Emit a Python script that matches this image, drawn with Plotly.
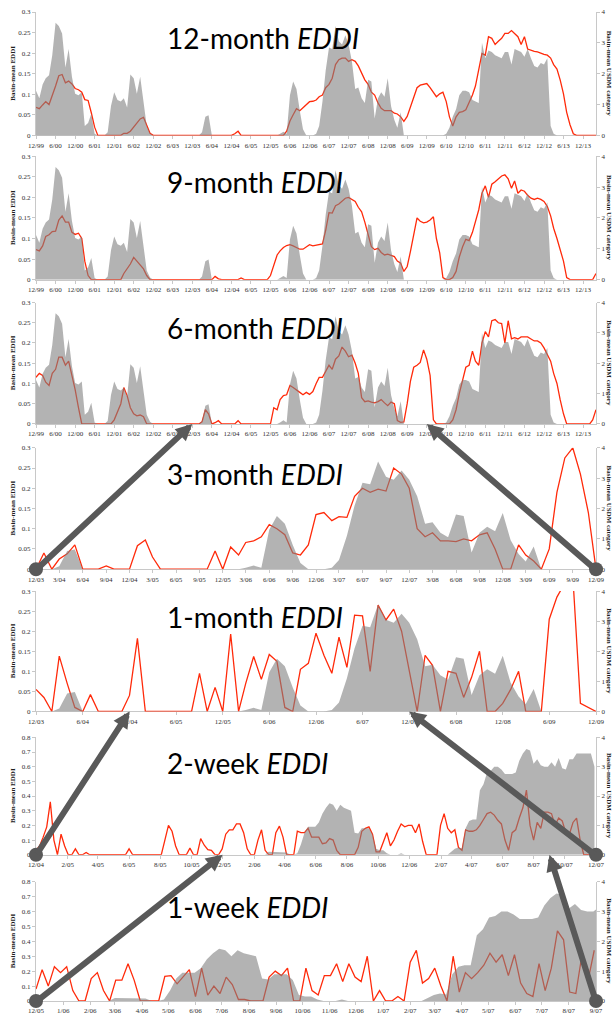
import pandas as pd
import plotly.graph_objects as go

# ---------------- data ----------------
# Basin-mean USDM category, monthly, Dec 1999 - Apr 2014
usdm_monthly = [
    1.45,                                                               # Dec 1999
    1.2, 1.65, 1.85, 1.95, 2.6, 3.65, 3.55, 3.3, 2.2, 2.8, 1.9, 1.35,   # 2000
    1.3, 1.4, 0.3, 0.4, 0.7, 0.05, 0, 0, 0, 0.1, 0.95, 1.4,             # 2001
    1.15, 1.1, 1.2, 0.9, 1.97, 1.85, 1.35, 1.9, 1.1, 0.3, 0.07, 0,      # 2002
    0, 0, 0, 0, 0, 0, 0, 0, 0, 0, 0, 0,                                 # 2003
    0, 0, 0.1, 0.6, 0.65, 0, 0, 0, 0, 0, 0, 0,                          # 2004
    0, 0, 0, 0, 0, 0, 0, 0, 0, 0, 0, 0,                                 # 2005
    0, 0, 0.05, 0.12, 0.05, 1.3, 1.75, 1.5, 0.8, 0.2, 0, 0,             # 2006
    0, 0.05, 0.3, 1.1, 2.1, 2.85, 2.8, 3.55, 3.05, 2.95, 3.25, 2.95,    # 2007
    2.4, 1.5, 1.55, 1.2, 1.05, 1.8, 1.75, 0.55, 1.2, 1.4, 1.25, 1.85,   # 2008
    0.95, 0.5, 0.25, 0.75, 0, 0, 0, 0, 0, 0, 0, 0,                      # 2009
    0, 0, 0, 0, 0, 0.05, 0.25, 0.6, 0.85, 1.3, 1.45, 1.45,              # 2010
    1.4, 1.15, 1.1, 1.05, 3.0, 2.5, 2.75, 2.7, 2.6, 2.55, 2.5, 2.7,     # 2011
    2.7, 2.3, 2.8, 2.75, 2.7, 2.55, 2.8, 2.5, 2.25, 2.2, 2.35, 2.3,     # 2012
    2.5, 0.3, 0.05, 0, 0, 0, 0, 0, 0, 0, 0, 0,                          # 2013
    0, 0, 0, 0,                                                         # 2014
]

# Basin-mean EDDI, monthly, Dec 1999 - Apr 2014
eddi_12mo = [
    0.068,
    0.065, 0.074, 0.082, 0.075, 0.095, 0.12, 0.145, 0.148, 0.128, 0.132, 0.125, 0.114,
    0.111, 0.105, 0.087, 0.085, 0.055, 0.02, 0, 0, 0, 0, 0, 0,
    0, 0, 0.005, 0.005, 0.01, 0.02, 0.03, 0.04, 0.044, 0.025, 0.005, 0,
    0, 0, 0, 0, 0, 0, 0, 0, 0, 0, 0, 0,
    0, 0, 0, 0, 0, 0, 0, 0, 0, 0, 0, 0,
    0.004, 0.01, 0, 0, 0, 0, 0, 0, 0, 0, 0, 0,
    0, 0, 0, 0, 0.01, 0.035, 0.05, 0.065, 0.06, 0.068, 0.074, 0.082,
    0.083, 0.086, 0.094, 0.098, 0.116, 0.124, 0.139, 0.172, 0.184, 0.188, 0.188, 0.18,
    0.184, 0.18, 0.169, 0.15, 0.135, 0.124, 0.105, 0.098, 0.079, 0.066, 0.06, 0.06,
    0.06, 0.054, 0.052, 0.045, 0.034, 0.046, 0.068, 0.09, 0.116, 0.122, 0.124, 0.126,
    0.116, 0.105, 0.094, 0.101, 0.105, 0.082, 0.045, 0.023, 0.045, 0.056, 0.058, 0.062,
    0.079, 0.098, 0.12, 0.161, 0.199, 0.195, 0.24, 0.236, 0.221, 0.229, 0.236, 0.248,
    0.248, 0.255, 0.248, 0.24, 0.221, 0.24, 0.21, 0.206, 0.204, 0.203, 0.199, 0.197,
    0.195, 0.188, 0.172, 0.161, 0.135, 0.101, 0.056, 0.026, 0.004, 0, 0, 0,
    0, 0, 0, 0,
]

eddi_9mo = [
    0.073,
    0.07, 0.082, 0.105, 0.109, 0.117, 0.118, 0.145, 0.155, 0.14, 0.14, 0.115, 0.11,
    0.113, 0.1, 0.045, 0.01, 0, 0, 0, 0, 0, 0, 0, 0,
    0, 0, 0.015, 0.027, 0.038, 0.054, 0.044, 0.036, 0.026, 0.01, 0, 0,
    0, 0, 0, 0, 0, 0, 0, 0, 0, 0, 0, 0,
    0, 0, 0, 0, 0, 0, 0.008, 0.002, 0, 0, 0, 0,
    0, 0, 0.004, 0, 0, 0, 0, 0, 0, 0, 0, 0.01,
    0.035, 0.06, 0.07, 0.078, 0.083, 0.085, 0.082, 0.077, 0.074, 0.074, 0.08, 0.085,
    0.082, 0.084, 0.085, 0.087, 0.12, 0.163, 0.162, 0.18, 0.184, 0.19, 0.198, 0.2,
    0.195, 0.19, 0.176, 0.165, 0.14, 0.11, 0.08, 0.073, 0.076, 0.066, 0.06, 0.062,
    0.059, 0.056, 0.045, 0.04, 0.02, 0.032, 0.068, 0.108, 0.15, 0.142, 0.138, 0.14,
    0.145, 0.153, 0.1, 0.065, 0.005, 0, 0, 0.005, 0.02, 0.055, 0.08, 0.098,
    0.095, 0.115, 0.14, 0.17, 0.21, 0.228, 0.2, 0.232, 0.238, 0.246, 0.252, 0.255,
    0.245, 0.222, 0.24, 0.21, 0.218, 0.215, 0.205, 0.198, 0.195, 0.198, 0.195, 0.19,
    0.178, 0.155, 0.125, 0.1, 0.075, 0.045, 0.005, 0, 0, 0, 0, 0,
    0, 0, 0, 0.015,
]

eddi_6mo = [
    0.115,
    0.125, 0.12, 0.103, 0.095, 0.125, 0.135, 0.165, 0.165, 0.145, 0.155, 0.12, 0.085,
    0.04, 0, 0, 0, 0, 0, 0, 0, 0, 0, 0, 0.01,
    0.03, 0.05, 0.09, 0.07, 0.04, 0.025, 0.02, 0.022, 0.018, 0, 0, 0,
    0, 0, 0, 0, 0, 0, 0, 0, 0, 0, 0, 0,
    0, 0, 0.005, 0.035, 0.025, 0, 0.003, 0.008, 0, 0, 0, 0,
    0, 0.008, 0, 0, 0, 0, 0, 0, 0, 0, 0, 0,
    0.04, 0.035, 0.06, 0.07, 0.072, 0.095, 0.09, 0.085, 0.078, 0.072, 0.078, 0.073,
    0.08, 0.1, 0.115, 0.115, 0.13, 0.145, 0.135, 0.16, 0.168, 0.19, 0.18, 0.166,
    0.17, 0.15, 0.125, 0.065, 0.055, 0.057, 0.054, 0.052, 0.055, 0.06, 0.052, 0.045,
    0.054, 0.05, 0.008, 0.004, 0.005, 0.05, 0.105, 0.14, 0.145, 0.152, 0.183, 0.16,
    0.12, 0.01, 0, 0, 0, 0, 0, 0.01, 0.035, 0.075, 0.11, 0.14,
    0.145, 0.18, 0.155, 0.145, 0.2, 0.228, 0.215, 0.255, 0.258, 0.25, 0.248, 0.2,
    0.255, 0.21, 0.213, 0.21, 0.215, 0.215, 0.215, 0.21, 0.205, 0.205, 0.2, 0.188,
    0.17, 0.155, 0.125, 0.1, 0.06, 0.025, 0, 0, 0, 0, 0, 0,
    0, 0, 0.01, 0.035,
]

# Basin-mean EDDI, monthly, Dec 2003 - Dec 2009
eddi_3mo = [
    0,
    0.04, 0, 0.025, 0.038, 0.06, 0, 0, 0, 0.008, 0, 0, 0,
    0.058, 0.072, 0.03, 0, 0, 0, 0, 0, 0, 0, 0.045, 0,
    0.055, 0.035, 0.066, 0.07, 0.08, 0.11, 0.1, 0.085, 0.04, 0.035, 0.06, 0.135,
    0.14, 0.12, 0.13, 0.128, 0.18, 0.2, 0.19, 0.198, 0.193, 0.25, 0.235, 0.2,
    0.1, 0.08, 0.09, 0.07, 0.07, 0.068, 0.075, 0.07, 0.085, 0.09, 0.05, 0,
    0, 0.06, 0.035, 0.02, 0, 0.05, 0.19, 0.275, 0.3, 0.235, 0.14, 0,
]

eddi_1mo = [
    0.055,
    0.035, 0, 0.138, 0.07, 0.01, 0, 0.042, 0, 0, 0, 0, 0.04,
    0.182, 0, 0, 0, 0, 0, 0, 0, 0.095, 0, 0.06, 0,
    0.193, 0, 0.07, 0.137, 0.08, 0.142, 0.125, 0.01, 0, 0.105, 0.12, 0.195,
    0.14, 0.095, 0.185, 0.11, 0.24, 0.238, 0.1, 0.265, 0.228, 0.255, 0.2, 0.1,
    0, 0.14, 0.115, 0, 0.1, 0.095, 0.035, 0.085, 0.15, 0, 0, 0.02,
    0.055, 0.1, 0, 0, 0, 0.23, 0.285, 0.32, 0.34, 0.02, 0.01, 0,
]

# Basin-mean USDM category, weekly from 1 Dec 2004
usdm_weekly = (
    [0] * 65
    + [0.1, 0.1, 0.1, 0.1, 0.1, 0.08, 0, 0, 0.05, 0.35, 0.75, 0.95, 0.95, 0.95,
       1.1, 1.4, 1.6, 1.75, 1.7, 1.5, 1.7, 1.6, 1.55, 1.5, 0.75, 0.72, 0.9, 0.9,
       0.9, 0.7, 0.2, 0.15, 0.15, 0.05, 0, 0, 0, 0.05]
    + [0] * 13
    + [0.1, 0.2, 0.25, 0.22, 0.9, 1.15, 1.2, 1.2, 2.2, 2.4, 2.8, 2.85, 3.0, 3.0,
       2.9, 2.75, 2.75, 2.75, 2.8, 3.2, 3.45, 3.6, 3.55, 3.1, 3.25, 3.05, 3.0,
       3.0, 3.15, 3.0, 3.3, 2.95, 2.9, 3.25, 3.25, 3.45, 3.45, 3.45, 3.45, 3.45,
       3.0]
)

# 2-week EDDI, weekly from 1 Dec 2004
eddi_2wk = (
    [0.03, 0.06, 0.12, 0.19, 0.36, 0.1, 0, 0.14, 0.06, 0, 0, 0.04, 0, 0, 0.015]
    + [0] * 11
    + [0.04]
    + [0] * 9
    + [0.1, 0.2, 0.16, 0.06, 0, 0, 0, 0.045, 0, 0, 0.11, 0.065, 0.035, 0.03, 0,
       0, 0.04, 0.14, 0.17, 0.17, 0.21, 0.21, 0.15, 0.04, 0, 0, 0.1, 0.17, 0.03,
       0, 0, 0.15, 0.195, 0.12, 0, 0, 0, 0.16, 0.15, 0.15, 0.18, 0.12, 0.12,
       0.12, 0.075, 0.08, 0.11, 0.1, 0.03]
    + [0] * 5
    + [0.05, 0.16, 0.18, 0.19, 0.14, 0.02, 0.02, 0.09, 0.15, 0.06, 0.1, 0.16,
       0.21, 0.19, 0.2, 0.2, 0.15, 0.21, 0.09]
    + [0] * 4
    + [0.2, 0.28, 0.18, 0.15, 0.17, 0.05, 0.03, 0.17, 0.16, 0.16, 0.17, 0.2,
       0.24, 0.28, 0.29, 0.27, 0.235, 0.21, 0.1, 0.03, 0.15, 0.17, 0.25, 0.32,
       0.44, 0.2, 0.1, 0.22, 0.18, 0.29, 0.29, 0.28, 0.2, 0.25, 0.23, 0.15,
       0.14, 0.22, 0.25, 0.1, 0, 0, 0, 0]
)

# 1-week EDDI, weekly from 1 Dec 2005
eddi_1wk = [
    0.08, 0.21, 0.1, 0.23, 0.19, 0.23, 0.07, 0,
    0, 0.15, 0.19, 0.07, 0,
    0.14, 0.14, 0.25, 0.14, 0,
    0, 0, 0,
    0.165, 0.17, 0.115, 0.16, 0.21, 0.03, 0.22, 0.04, 0.1, 0.05, 0.16, 0.11, 0.01, 0.01, 0,
    0, 0,
    0.16, 0.2, 0.17, 0.22, 0, 0, 0.22, 0.07, 0.04, 0.17, 0.17, 0.25, 0.13, 0.25,
    0.16, 0.13, 0.3, 0, 0.07, 0, 0, 0.03, 0,
    0.26, 0.34, 0.12, 0.15, 0.22, 0.1, 0, 0.3, 0.06, 0.19, 0.15, 0.19, 0.24, 0.32,
    0.26, 0.31, 0.17, 0.31, 0.12, 0.05, 0.03, 0.25, 0.07, 0.22, 0.47, 0.41, 0.06,
    0.05, 0.31, 0.14, 0.34,
]

panel_labels = ["12-month", "9-month", "6-month", "3-month", "1-month", "2-week", "1-week"]

# ---------------- series on their time axes ----------------
monthly_dates = pd.date_range("1999-12-01", periods=len(usdm_monthly), freq="MS")
usdm_m = pd.Series(usdm_monthly, index=monthly_dates)
usdm_0309 = usdm_m["2003-12-01":"2009-12-01"]
mid_dates = pd.date_range("2003-12-01", periods=len(eddi_3mo), freq="MS")

weekly_dates = pd.date_range("2004-12-01", periods=len(usdm_weekly), freq="7D")
usdm_w = pd.Series(usdm_weekly, index=weekly_dates)
usdm_0507 = usdm_w["2005-11-20":"2007-09-10"]
wk2_dates = pd.date_range("2004-12-01", periods=len(eddi_2wk), freq="7D")
wk1_dates = pd.date_range("2005-12-01", periods=len(eddi_1wk), freq="7D")

full_range = ("1999-12-01", "2014-04-01")
mid_range = ("2003-12-01", "2009-12-01")

panels = [
    dict(ex=monthly_dates, ey=eddi_12mo, ux=monthly_dates, uy=usdm_monthly,
         xr=full_range, dtick="M6", ymax=0.3, ydt=0.05),
    dict(ex=monthly_dates, ey=eddi_9mo, ux=monthly_dates, uy=usdm_monthly,
         xr=full_range, dtick="M6", ymax=0.3, ydt=0.05),
    dict(ex=monthly_dates, ey=eddi_6mo, ux=monthly_dates, uy=usdm_monthly,
         xr=full_range, dtick="M6", ymax=0.3, ydt=0.05),
    dict(ex=mid_dates, ey=eddi_3mo, ux=usdm_0309.index, uy=usdm_0309.values,
         xr=mid_range, dtick="M3", ymax=0.3, ydt=0.05),
    dict(ex=mid_dates, ey=eddi_1mo, ux=usdm_0309.index, uy=usdm_0309.values,
         xr=mid_range, dtick="M6", ymax=0.3, ydt=0.05),
    dict(ex=wk2_dates, ey=eddi_2wk, ux=weekly_dates, uy=usdm_weekly,
         xr=("2004-12-01", "2007-12-01"), dtick="M2", ymax=0.8, ydt=0.1),
    dict(ex=wk1_dates, ey=eddi_1wk, ux=usdm_0507.index, uy=usdm_0507.values,
         xr=("2005-12-01", "2007-09-01"), dtick="M1", ymax=0.8, ydt=0.1),
]

# ---------------- geometry ----------------
W, H = 616, 1023
ML, MR, MT, MB = 36, 20, 8, 21
PW, PH = W - ML - MR, H - MT - MB
# (top, bottom) pixel rows of each plot area
panel_px = [(8, 132), (153, 277), (300, 422), (446, 568), (590, 711), (737, 855), (882, 1002)]


def ypaper(py):
    return (H - MB - py) / PH


def xfrac(i, date):
    r0, r1 = (pd.Timestamp(v) for v in panels[i]["xr"])
    return (pd.Timestamp(date) - r0) / (r1 - r0)


RED = "#ff2a0a"
GRAY = "rgba(128,128,128,0.6)"
DARK = "#595959"
AXC = "#c8c8c8"
TICKFONT = dict(family="Liberation Serif", size=7, color="#303030")

fig = go.Figure()
layout = {}
annotations = []
shapes = []

for i, p in enumerate(panels):
    n = i + 1
    xa = "x" if n == 1 else f"x{n}"
    yl_n, yr_n = 2 * n - 1, 2 * n
    yl = "y" if yl_n == 1 else f"y{yl_n}"
    yr = f"y{yr_n}"

    fig.add_trace(go.Scatter(
        x=p["ex"], y=p["ey"], xaxis=xa, yaxis=yl, mode="lines",
        line=dict(color=RED, width=1.3), showlegend=False, hoverinfo="skip"))
    fig.add_trace(go.Scatter(
        x=p["ux"], y=p["uy"], xaxis=xa, yaxis=yr, mode="lines", fill="tozeroy",
        fillcolor=GRAY, line=dict(width=0, color=GRAY), showlegend=False,
        hoverinfo="skip"))

    top, bot = panel_px[i]
    dom = [ypaper(bot), ypaper(top)]

    layout["xaxis" if n == 1 else f"xaxis{n}"] = dict(
        domain=[0, 1], anchor=yl, type="date", range=list(p["xr"]),
        tick0=p["xr"][0], dtick=p["dtick"], tickformat="%-m/%y",
        showline=True, linecolor=AXC, linewidth=1, ticks="outside",
        ticklen=3, tickcolor=AXC, tickfont=TICKFONT, showgrid=False,
        zeroline=False, layer="below traces", fixedrange=True)
    layout["yaxis" if yl_n == 1 else f"yaxis{yl_n}"] = dict(
        domain=dom, anchor=xa, range=[0, p["ymax"]], dtick=p["ydt"], tick0=0,
        showline=True, linecolor=AXC, ticks="outside", ticklen=3,
        tickcolor=AXC, tickfont=TICKFONT, showgrid=False, zeroline=False,
        layer="below traces")
    layout[f"yaxis{yr_n}"] = dict(
        domain=dom, anchor=xa, overlaying=yl, side="right", range=[0, 4],
        dtick=1, tick0=0, showline=True, linecolor=AXC, ticks="outside",
        ticklen=3, tickcolor=AXC, tickfont=TICKFONT, showgrid=False,
        zeroline=False)

    # panel heading
    annotations.append(dict(
        text=f"{panel_labels[i]} <i>EDDI</i>", xref="paper", yref="paper",
        x=(165 - ML) / PW, y=ypaper(top + 26), xanchor="left", yanchor="middle",
        showarrow=False, font=dict(family="Lato", size=28, color="#000000")))
    # axis titles
    annotations.append(dict(
        text="<b>Basin-mean EDDI</b>", xref="paper", yref="paper",
        x=(13 - ML) / PW, y=ypaper((top + bot) / 2), xanchor="center",
        yanchor="middle", textangle=-90, showarrow=False,
        font=dict(family="Liberation Serif", size=7, color="#202020")))
    annotations.append(dict(
        text="<b>Basin-mean USDM category</b>", xref="paper", yref="paper",
        x=(609 - ML) / PW, y=ypaper((top + bot) / 2), xanchor="center",
        yanchor="middle", textangle=90, showarrow=False,
        font=dict(family="Liberation Serif", size=7, color="#202020")))

# zoom arrows: both ends of a lower panel's span point to the same dates above
for up, lo in [(2, 3), (4, 5), (5, 6)]:
    for d in panels[lo]["xr"]:
        hx = ML + xfrac(up, d) * PW
        hy = panel_px[up][1]
        tx = ML + xfrac(lo, d) * PW
        ty = panel_px[lo][1]
        annotations.append(dict(
            text="", xref="paper", yref="paper", x=xfrac(up, d), y=ypaper(hy),
            axref="pixel", ayref="pixel", ax=tx - hx, ay=ty - hy,
            showarrow=True, arrowhead=2, arrowsize=0.55, arrowwidth=6,
            arrowcolor=DARK, standoff=0))
        shapes.append(dict(
            type="circle", xref="paper", yref="paper", xsizemode="pixel",
            ysizemode="pixel", xanchor=xfrac(lo, d), yanchor=ypaper(ty),
            x0=-7, x1=7, y0=-7, y1=7, fillcolor=DARK, line=dict(width=0),
            layer="above"))

fig.update_layout(
    **layout,
    width=W, height=H,
    margin=dict(l=ML, r=MR, t=MT, b=MB),
    paper_bgcolor="white", plot_bgcolor="white",
    annotations=annotations, shapes=shapes,
    showlegend=False,
)

fig.write_html("out.html")
